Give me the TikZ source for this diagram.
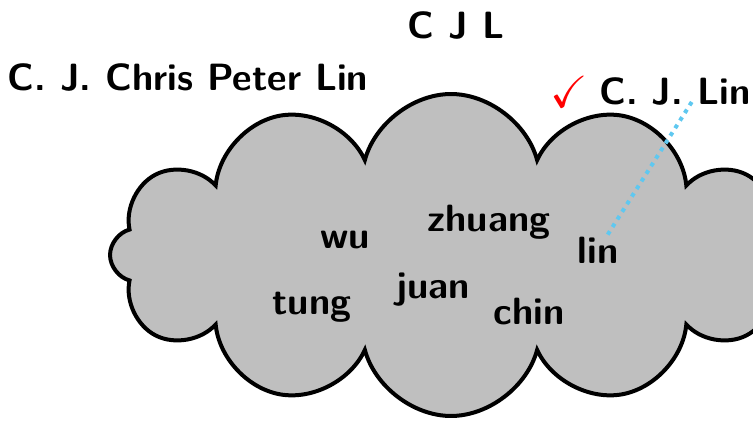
\documentclass[tikz,border=0pt]{standalone}
\usepackage{amssymb}
\usetikzlibrary{shapes.symbols}
\definecolor{linkblue}{RGB}{95,200,240}
\begin{document}
\begin{tikzpicture}[x=1pt,y=-1pt,
  lbl/.style={font=\fontsize{38}{44}\selectfont\sffamily\bfseries, inner sep=2pt},
  cloudbox/.style={cloud, cloud puffs=12, draw, line width=4pt, fill=lightgray,
    minimum width=682pt, minimum height=322pt, cloud ignores aspect},
  link/.style={linkblue, line width=4pt, dash pattern=on 4pt off 5pt}]
\useasboundingbox (0,0) rectangle (753,422);
\clip (0,0) rectangle (753,422);
\node[cloudbox] (cloud) at (451,255) {};
\node[lbl] (cjl) at (456,26) {C J L};
\node[lbl] (full) at (188,78) {C. J. Chris Peter Lin};
\node[lbl, text=red, font=\fontsize{45}{50}\selectfont] (check) at (569,92) {$\checkmark$};
\node[lbl] (cjlin) at (675,92) {C. J. Lin};
\node[lbl] (wu) at (345,240) {wu};
\node[lbl] (zhuang) at (489,222) {zhuang};
\node[lbl] (lin) at (598,250) {lin};
\node[lbl] (juan) at (433,290) {juan};
\node[lbl] (tung) at (312,307) {tung};
\node[lbl] (chin) at (529,312) {chin};
\coordinate (linkend) at (693,100);
\draw[link] (lin) -- (linkend);
\end{tikzpicture}
\end{document}
